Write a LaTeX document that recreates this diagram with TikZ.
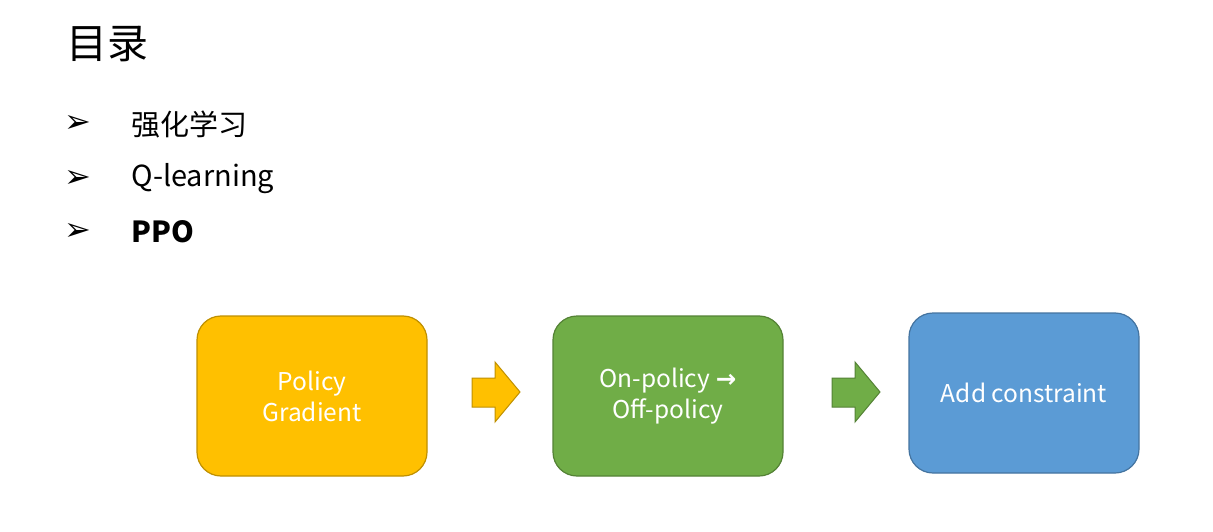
\documentclass[tikz,border=0pt]{standalone}
\usepackage{fontspec}
\setmainfont{Noto Sans CJK SC}
\newfontfamily\symfont{DejaVu Sans}
\definecolor{pgyellow}{HTML}{FFC000}
\definecolor{pggreen}{HTML}{70AD47}
\definecolor{pgblue}{HTML}{5B9BD5}
\begin{document}
\begin{tikzpicture}[x=1pt,y=-1pt,
  stage/.style={rounded corners=24pt,minimum width=230pt,minimum height=160pt,
    line width=1.2pt,text=white,align=center,font=\fontsize{24.5}{31}\selectfont},
  item/.style={anchor=west,font=\fontsize{29}{30}\selectfont},
  bullet/.style={font=\symfont\fontsize{32}{32}\selectfont}]
\useasboundingbox[fill=white] (0,0) rectangle (1213,532);
% heading and list
\node[anchor=west,font=\fontsize{41}{41}\selectfont] (title) at (63,44) {目录};
\foreach \t/\y/\n in {强化学习/124/rl,Q-learning/179/ql,\bfseries PPO/232/ppo}{
  \node[bullet] (b\n) at (78,\y) {➢};
  \node[item] (\n) at (128,\y) {\t};}
% the three stages
\node[stage,fill=pgyellow,draw=pgyellow!75!black] (pg) at (312,396) {Policy\\Gradient};
\node[stage,fill=pggreen,draw=pggreen!75!black] (onoff) at (668,396) {On-policy {\symfont\bfseries →}\\Off-policy};
\node[stage,fill=pgblue,draw=pgblue!75!black] (cons) at (1024,393) {Add constraint};
% block arrows between them
\foreach \x/\c in {472/pgyellow,832/pggreen}{
  \filldraw[fill=\c,draw=\c!75!black,line width=1pt] (\x,378) -- ++(23,0) -- ++(0,-16)
    -- ++(25,30) -- ++(-25,30) -- ++(0,-15) -- ++(-23,0) -- cycle;}
\end{tikzpicture}
\end{document}
